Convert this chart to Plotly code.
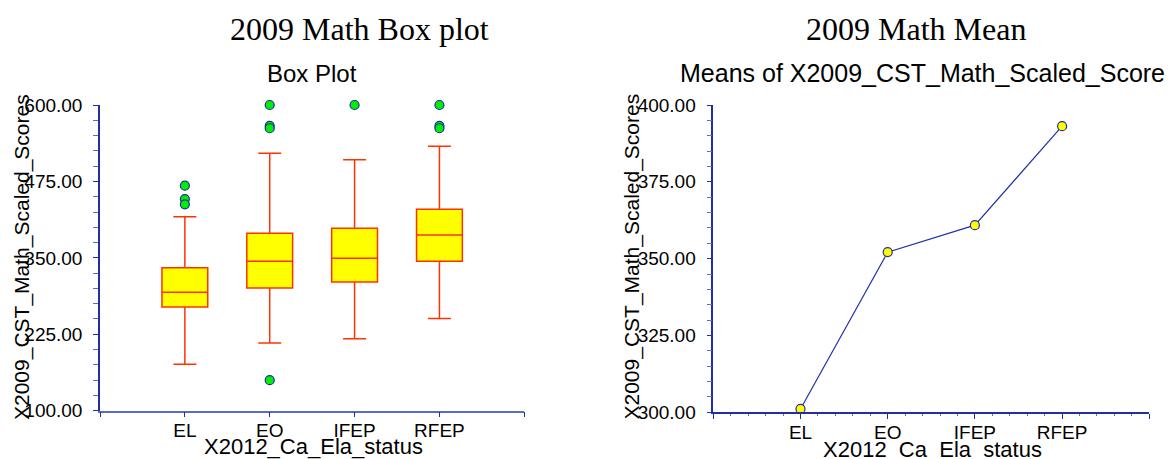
import plotly.graph_objects as go

# ---- data ----
categories = ["EL", "EO", "IFEP", "RFEP"]
box_lowerfence = [175.8, 210.7, 217.7, 251.0]
box_q1 = [269.6, 300.6, 310.5, 344.3]
box_median = [293.6, 344.3, 349.2, 387.3]
box_q3 = [333.9, 390.1, 398.3, 429.4]
box_upperfence = [417.3, 521.0, 510.5, 532.4]
outlier_cat = ["EL", "EL", "EL", "EO", "EO", "EO", "EO", "IFEP", "RFEP", "RFEP", "RFEP"]
outlier_val = [468.0, 446.2, 437.6, 600.0, 566.0, 562.0, 150.0, 600.0, 600.0, 566.0, 562.0]
mean_values = [301.1, 352.1, 360.9, 393.1]

left_yticks = [100, 225, 350, 475, 600]
right_yticks = [300, 325, 350, 375, 400]

W, H = 1176, 459
pos = {c: i for i, c in enumerate(categories)}
xpos = [pos[c] for c in categories]
out_x = [pos[c] for c in outlier_cat]

def px(x):
    return x / W

def py(y):
    return 1 - y / H

BOX_LINE = "#FF3300"
NAVY = "#1F2F9F"
LIGHTBLUE = "#5B6CC4"

fig = go.Figure()

fig.add_trace(go.Box(
    x=xpos, q1=box_q1, median=box_median, q3=box_q3,
    lowerfence=box_lowerfence, upperfence=box_upperfence,
    boxpoints=False, width=0.54, whiskerwidth=0.5,
    fillcolor="#FFFF00", line=dict(color=BOX_LINE, width=1.5),
    xaxis="x", yaxis="y", showlegend=False, hoverinfo="skip",
))
fig.add_trace(go.Scatter(
    x=out_x, y=outlier_val, mode="markers",
    marker=dict(color="#00EE00", size=9, line=dict(color=NAVY, width=1.2)),
    xaxis="x", yaxis="y", showlegend=False, cliponaxis=False,
))
fig.add_trace(go.Scatter(
    x=xpos, y=mean_values, mode="lines+markers",
    line=dict(color="#2233AA", width=1.2),
    marker=dict(color="#FFFF00", size=9, line=dict(color=NAVY, width=1.2)),
    xaxis="x2", yaxis="y2", showlegend=False, cliponaxis=False,
))

tickfont = dict(family="Liberation Sans, Arial", size=19, color="black")
xtickvals = [-1] + xpos + [len(categories)]
xticktext = [""] + categories + [""]

fig.update_layout(
    width=W, height=H,
    margin=dict(l=0, r=0, t=0, b=0),
    paper_bgcolor="white", plot_bgcolor="white",
    xaxis=dict(domain=[px(100), px(524.3)], range=[-1, len(categories)],
               tickvals=xtickvals, ticktext=xticktext, automargin=False,
               showline=True, linecolor=LIGHTBLUE, linewidth=1.5,
               ticks="outside", ticklen=5, tickcolor=NAVY, tickwidth=1,
               showgrid=False, zeroline=False, tickfont=tickfont,
               ticklabelstandoff=-3, anchor="y"),
    yaxis=dict(domain=[py(410.7), py(105)], range=[100, 600],
               tickvals=left_yticks, tickformat=".2f", automargin=False,
               showline=True, linecolor=NAVY, linewidth=1.5,
               ticks="outside", ticklen=5, tickcolor=NAVY, tickwidth=1,
               minor=dict(dtick=25, ticks="outside", ticklen=5, tickcolor=LIGHTBLUE, showgrid=False),
               showgrid=False, zeroline=False, tickfont=tickfont,
               ticklabelstandoff=7, anchor="x"),
    xaxis2=dict(domain=[px(713.3), px(1149.3)], range=[-1, len(categories)],
                tickvals=xtickvals, ticktext=xticktext, automargin=False,
                showline=True, linecolor=NAVY, linewidth=1.5,
                ticks="outside", ticklen=5, tickcolor=NAVY, tickwidth=1,
                minor=dict(dtick=0.2, tick0=-1, ticks="outside", ticklen=2, tickcolor=LIGHTBLUE, showgrid=False),
                showgrid=False, zeroline=False, tickfont=tickfont,
                ticklabelstandoff=-3, anchor="y2"),
    yaxis2=dict(domain=[py(412.3), py(105)], range=[300, 400],
                tickvals=right_yticks, tickformat=".2f", automargin=False,
                showline=True, linecolor=NAVY, linewidth=1.5,
                ticks="outside", ticklen=5, tickcolor=NAVY, tickwidth=1,
                minor=dict(dtick=5, ticks="outside", ticklen=5, tickcolor=LIGHTBLUE, showgrid=False),
                showgrid=False, zeroline=False, tickfont=tickfont,
                ticklabelstandoff=7, anchor="x2"),
)

serif = dict(family="Liberation Serif, Times New Roman", size=32, color="black")
sans24 = dict(family="Liberation Sans, Arial", size=24, color="black")
sans25 = dict(family="Liberation Sans, Arial", size=25, color="black")
sans21 = dict(family="Liberation Sans, Arial", size=21, color="black")
sans22 = dict(family="Liberation Sans, Arial", size=22, color="black")

def ann(text, x, y, font, angle=0):
    fig.add_annotation(text=text, x=px(x), y=py(y), xref="paper", yref="paper",
                       xanchor="center", yanchor="middle", showarrow=False,
                       font=font, textangle=angle)

ann("2009 Math Box plot", 359, 29, serif)
ann("2009 Math Mean", 915.5, 29, serif)
ann("Box Plot", 312, 73, sans24)
ann("Means of X2009_CST_Math_Scaled_Score", 922.5, 73, sans25)
ann("X2009_CST_Math_Scaled_Scores", 22, 257, sans21, -90)
ann("X2009_CST_Math_Scaled_Scores", 631.5, 257, sans21, -90)
ann("X2012_Ca_Ela_status", 313, 446, sans22)
ann("X2012_Ca_Ela_status", 932, 449, sans22)

fig.write_html(
    "out.html",
    config={"displayModeBar": False},
    post_script="document.body.style.margin='0px';document.body.style.overflow='hidden';",
)
